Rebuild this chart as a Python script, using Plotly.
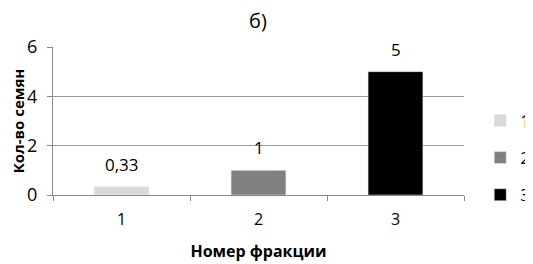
import plotly.graph_objects as go

categories = ["1", "2", "3"]
values = [0.33, 1, 5]
labels = ["0,33", "1", "5"]
series_names = ["1", "2", "3"]
colors = ["#d9d9d9", "#808080", "#000000"]

font_family = "Open Sans, Liberation Sans, sans-serif"

fig = go.Figure()
for c, v, n, col in zip(categories, values, series_names, colors):
    fig.add_trace(go.Bar(x=[c], y=[v], name=n, marker_color=col, width=0.4,
                         legendgroup=n, showlegend=True))

for i, (v, t) in enumerate(zip(values, labels)):
    fig.add_annotation(x=i, y=v, xref="x", yref="y", text=t, showarrow=False,
                       yanchor="bottom", yshift=9,
                       font=dict(size=17, color="#000", family=font_family))

fig.update_layout(
    width=533, height=264,
    margin=dict(l=45, r=77, t=39, b=77, autoexpand=False),
    paper_bgcolor="white", plot_bgcolor="white",
    barmode="overlay",
    font=dict(family=font_family, size=16, color="#000"),
    title=dict(text="б)", x=0.469, xanchor="center", y=0.952, yanchor="middle",
               font=dict(size=20, family=font_family)),
    legend=dict(xref="container", yref="container", x=0.886, y=0.432,
                yanchor="middle", xanchor="left",
                font=dict(size=17), tracegroupgap=12, itemwidth=30,
                bgcolor="rgba(0,0,0,0)"),
    showlegend=True,
)
fig.update_xaxes(type="category", range=[-0.5, 2.5], showgrid=False, showline=True,
                 linecolor="#888", automargin=False, ticklabelstandoff=10,
                 ticks="outside", tickson="boundaries", ticklen=5, tickcolor="#888",
                 title=dict(text="<b>Номер фракции</b>", standoff=16, font=dict(size=16)),
                 tickfont=dict(size=16))
fig.update_yaxes(range=[0, 6], dtick=2, showgrid=True, gridcolor="#999", gridwidth=1,
                 showline=True, linecolor="#888", ticks="outside", ticklen=5,
                 tickcolor="#888", zeroline=False, automargin=False, ticklabelstandoff=6,
                 title=dict(text="<b>Кол-во семян</b>", standoff=18, font=dict(size=15)),
                 tickfont=dict(size=18))

fig.write_html("out.html")
